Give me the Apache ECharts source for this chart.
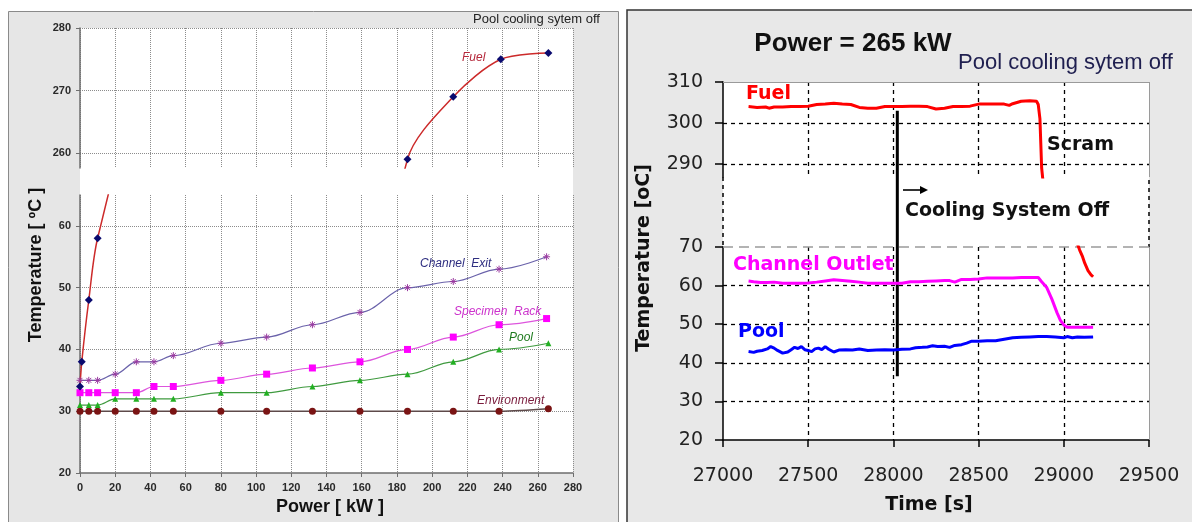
<!DOCTYPE html>
<html><head><meta charset="utf-8">
<script src="https://cdn.jsdelivr.net/npm/echarts@6/dist/echarts.min.js"></script>
<style>html,body{margin:0;padding:0;background:#fff}#c{width:1192px;height:522px}</style>
</head><body><div id="c"></div>
<script>
// ---------- LEFT PANEL DATA : Power [kW] vs Temperature [°C] ----------
const leftFuel          = [[0,34],[1,38],[5,48],[10,58],[186,259],[212,269],[239,275],[266,276]];
const leftChannelExit   = [[0,35],[5,35],[10,35],[20,36],[32,38],[42,38],[53,39],[80,41],[106,42],[132,44],[159,46],[186,50],[212,51],[238,53],[265,55]];
const leftSpecimenRack  = [[0,33],[5,33],[10,33],[20,33],[32,33],[42,34],[53,34],[80,35],[106,36],[132,37],[159,38],[186,40],[212,42],[238,44],[265,45]];
const leftPool          = [[0,31],[5,31],[10,31],[20,32],[32,32],[42,32],[53,32],[80,33],[106,33],[132,34],[159,35],[186,36],[212,38],[238,40],[266,41]];
const leftEnvironment   = [[0,30],[5,30],[10,30],[20,30],[32,30],[42,30],[53,30],[80,30],[106,30],[132,30],[159,30],[186,30],[212,30],[238,30],[266,30.4]];
const leftTopTicks      = [260,270,280];
const leftBottomTicks   = [20,30,40,50,60];

// ---------- RIGHT PANEL DATA : Time [s] vs Temperature [°C] ----------
const rightFuelTop = [[27150,304.0],[27200,303.8],[27250,303.9],[27270,303.6],[27300,303.9],[27350,303.9],[27400,304.0],[27450,304.0],[27500,304.1],[27550,304.5],[27600,304.6],[27650,304.8],[27700,304.6],[27750,304.5],[27800,303.8],[27850,303.6],[27900,303.6],[27950,304.0],[28000,304.0],[28050,304.0],[28100,304.1],[28150,304.1],[28200,304.0],[28250,303.4],[28300,303.6],[28350,304.0],[28400,304.0],[28450,304.1],[28500,304.6],[28550,304.6],[28600,304.6],[28650,304.6],[28680,304.3],[28700,304.7],[28750,305.3],[28800,305.4],[28840,305.3],[28850,304.5],[28860,301],[28865,295],[28870,289],[28880,285]];
const rightFuelBottom = [[29070,72],[29093,69.2],[29110,67.5],[29123,65.8],[29142,63.9],[29160,62.8],[29172,62.3]];
const rightChannelOutlet = [[27150,61.2],[27180,61.0],[27220,60.8],[27260,60.8],[27300,60.9],[27350,60.6],[27400,60.6],[27450,60.6],[27500,60.7],[27550,60.9],[27600,61.2],[27650,61.5],[27700,61.3],[27750,61.1],[27800,60.9],[27850,60.6],[27900,60.6],[27950,60.6],[28000,60.6],[28050,60.6],[28100,61.0],[28150,61.0],[28200,61.1],[28250,61.2],[28300,61.3],[28330,61.3],[28360,60.9],[28400,61.6],[28450,61.6],[28500,61.7],[28550,62.0],[28600,62.0],[28650,62.0],[28700,62.0],[28750,62.1],[28800,62.1],[28850,62.1],[28870,61.0],[28900,59.5],[28930,56.5],[28960,53],[28980,51],[29000,49.8],[29020,49.2],[29100,49.2],[29172,49.2]];
const rightPool = [[27150,42.9],[27180,42.7],[27200,43.0],[27230,43.2],[27260,43.6],[27280,44.2],[27300,43.8],[27320,43.2],[27350,42.5],[27380,42.8],[27400,43.4],[27420,44.0],[27440,43.7],[27460,44.2],[27480,43.4],[27500,43.2],[27520,42.9],[27540,43.6],[27560,43.8],[27580,43.4],[27600,44.2],[27620,43.5],[27650,42.8],[27680,43.3],[27720,43.4],[27760,43.3],[27800,43.6],[27850,43.2],[27900,43.3],[27950,43.4],[28000,43.3],[28050,43.5],[28100,43.6],[28130,43.9],[28170,44.0],[28200,44.1],[28230,44.4],[28260,44.2],[28300,44.3],[28330,44.0],[28360,44.5],[28400,44.7],[28430,45.1],[28460,45.6],[28500,45.6],[28550,45.7],[28600,45.7],[28650,46.1],[28700,46.5],[28750,46.6],[28800,46.7],[28850,46.8],[28900,46.8],[28950,46.7],[29000,46.5],[29020,46.8],[29050,46.5],[29080,46.7],[29120,46.6],[29172,46.7]];
const rightTopTicks = [290,300,310];
const rightBottomTicks = [20,30,40,50,60,70];
const coolingOffTime = 28023;
const coolingOffSpan = [303, 36.5];

// ---------- LAYOUT ----------
const L = {x:80, w:493, topY:28, topH:140, botY:195, botH:278};
const R = {x:723, w:426, topY:82, topH:95, botY:247, botH:193};
const fL = 'Arial, "Liberation Sans", sans-serif';
const fR = '"DejaVu Sans", sans-serif';

const chart = echarts.init(document.getElementById('c'), null, {renderer:'canvas'});

const leftGridLine = {show:true, lineStyle:{color:'#8c8c8c', type:'dotted', width:1}};
const rightDash = {color:'#000', type:[4,4], width:1.3};
const rightXGridLine = {show:true, showMinLine:false, showMaxLine:false, lineStyle:rightDash};

const leftLabel = {color:'#2a2a2a', fontFamily:fL, fontWeight:'bold', fontSize:11, margin:9};
const rightLabel = {color:'#222', fontFamily:fR, fontSize:19, formatter:(v)=>String(v)};

const asterisk = 'path://M0,5L10,5M5,0L5,10M1.5,1.5L8.5,8.5M8.5,1.5L1.5,8.5';

function leftLine(name, data, xi, color, lineColor, symbol, size, extra) {
  return Object.assign({
    type:'line', name, data, xAxisIndex:xi, yAxisIndex:xi,
    smooth:0.35, smoothMonotone:'x', symbol, symbolSize:size, showSymbol:true,
    lineStyle:{color:lineColor, width:1.2},
    itemStyle:{color:color},
    clip:true, silent:true, animation:false
  }, extra||{});
}
function rightLine(name, data, idx, color) {
  return {type:'line', name, data, xAxisIndex:idx, yAxisIndex:idx, symbol:'none',
    lineStyle:{color, width:3}, itemStyle:{color}, clip:true, silent:true, animation:false};
}

const option = {
  animation:false,
  backgroundColor:'transparent',
  grid:[
    {left:L.x, top:L.topY, width:L.w, height:L.topH, outerBoundsMode:'none'},
    {left:L.x, top:L.botY, width:L.w, height:L.botH, outerBoundsMode:'none'},
    {left:R.x, top:R.topY, width:R.w, height:R.topH, outerBoundsMode:'none'},
    {left:R.x, top:R.botY, width:R.w, height:R.botH, outerBoundsMode:'none'}
  ],
  xAxis:[
    {gridIndex:0, type:'value', min:0, max:280, interval:20, axisLine:{show:false}, axisTick:{show:false}, axisLabel:{show:false}, splitLine:leftGridLine},
    {gridIndex:1, type:'value', min:0, max:280, interval:20, axisLine:{show:true, onZero:false, lineStyle:{color:'#6e6e6e', width:1.5}}, axisTick:{show:true, length:4, lineStyle:{color:'#6e6e6e'}}, axisLabel:leftLabel, splitLine:leftGridLine},
    {gridIndex:2, type:'value', min:27000, max:29500, interval:500, axisLine:{show:false}, axisTick:{show:false}, axisLabel:{show:false}, splitLine:rightXGridLine},
    {gridIndex:3, type:'value', min:27000, max:29500, interval:500, axisLine:{show:true, onZero:false, lineStyle:{color:'#000', width:1.5}}, axisTick:{show:true, length:7, lineStyle:{color:'#000', width:1.5}}, axisLabel:Object.assign({margin:27}, rightLabel), splitLine:rightXGridLine}
  ],
  yAxis:[
    {gridIndex:0, type:'value', min:257.6, max:280, splitNumber:2,
      axisLine:{show:true, onZero:false, lineStyle:{color:'#6e6e6e', width:1.5}},
      axisTick:{show:true, length:4, customValues:leftTopTicks, lineStyle:{color:'#6e6e6e'}},
      axisLabel:Object.assign({customValues:leftTopTicks}, leftLabel),
      splitLine:leftGridLine},
    {gridIndex:1, type:'value', min:20, max:65, interval:10,
      axisLine:{show:true, onZero:false, lineStyle:{color:'#6e6e6e', width:1.5}},
      axisTick:{show:true, length:4, customValues:leftBottomTicks, lineStyle:{color:'#6e6e6e'}},
      axisLabel:Object.assign({customValues:leftBottomTicks}, leftLabel),
      splitLine:Object.assign({showMinLine:false}, leftGridLine)},
    {gridIndex:2, type:'value', min:286.8, max:310, splitNumber:2,
      axisLine:{show:true, onZero:false, lineStyle:{color:'#000', width:1.5}},
      axisTick:{show:true, length:8, customValues:rightTopTicks, lineStyle:{color:'#000', width:1.5}},
      axisLabel:Object.assign({customValues:rightTopTicks, margin:20}, rightLabel),
      splitLine:{show:true, showMinLine:true, showMaxLine:false, lineStyle:rightDash}},
    {gridIndex:3, type:'value', min:20, max:70, interval:10,
      axisLine:{show:true, onZero:false, lineStyle:{color:'#000', width:1.5}},
      axisTick:{show:true, length:8, customValues:rightBottomTicks, lineStyle:{color:'#000', width:1.5}},
      axisLabel:Object.assign({customValues:rightBottomTicks, margin:20}, rightLabel),
      splitLine:{show:true, showMinLine:false, showMaxLine:false, lineStyle:rightDash}}
  ],
  series:[
    leftLine('Environment', leftEnvironment, 1, '#7a1414', '#5e4a4a', 'circle', 7, {lineStyle:{color:'#5e4a4a', width:1.6}}),
    leftLine('Pool', leftPool, 1, '#22b022', '#3f9a3f', 'triangle', 6),
    leftLine('Specimen Rack', leftSpecimenRack, 1, '#ff00ff', '#dd55dd', 'rect', 7),
    leftLine('Channel Exit', leftChannelExit, 1, '#9a3aa0', '#6a62aa', asterisk, 7, {itemStyle:{color:'#9a3aa0', borderColor:'#9a3aa0', borderWidth:1}}),
    leftLine('Fuel', leftFuel, 1, '#0a0a6e', '#cc2a2a', 'diamond', 8, {smooth:0.3, smoothMonotone:null, lineStyle:{color:'#cc2a2a', width:1.5}}),
    leftLine('Fuel', leftFuel, 0, '#0a0a6e', '#cc2a2a', 'diamond', 8, {smooth:0.3, smoothMonotone:null, lineStyle:{color:'#cc2a2a', width:1.5}}),
    rightLine('Fuel', rightFuelTop, 2, '#ff0000'),
    rightLine('Fuel', rightFuelBottom, 3, '#ff0000'),
    rightLine('Channel Outlet', rightChannelOutlet, 3, '#ff00ff'),
    rightLine('Pool', rightPool, 3, '#0000ff')
  ]
};
chart.setOption(option);

const pTop = chart.convertToPixel({gridIndex:2}, [coolingOffTime, coolingOffSpan[0]]);
const pBot = chart.convertToPixel({gridIndex:3}, [coolingOffTime, coolingOffSpan[1]]);

function txt(text, x, y, font, fill, align, extra) {
  return Object.assign({type:'text', x, y, z:50, silent:true,
    style:{text, font, fill, align:align||'left', verticalAlign:'middle'}}, extra||{});
}
function ln(x1,y1,x2,y2,stroke,w,dash,z) {
  return {type:'line', z:z==null?5:z, silent:true, shape:{x1,y1,x2,y2}, style:{stroke, lineWidth:w, lineDash:dash||null}};
}

const Rr = R.x + R.w, Rtb = R.topY + R.topH;
chart.setOption({graphic:{elements:[
  // panels
  {type:'rect', z:-100, silent:true, shape:{x:8.5, y:11.5, width:610, height:520}, style:{fill:'#e6e6e6', stroke:'#8a8a8a', lineWidth:1}},
  {type:'rect', z:-90, silent:true, shape:{x:L.x, y:L.topY, width:L.w, height:L.botY+L.botH-L.topY}, style:{fill:'#ffffff'}},
  {type:'rect', z:-100, silent:true, shape:{x:627, y:10, width:570, height:520}, style:{fill:'#e8e8e8', stroke:'#333', lineWidth:1.5}},
  {type:'rect', z:-90, silent:true, shape:{x:R.x, y:R.topY, width:R.w, height:R.botY+R.botH-R.topY}, style:{fill:'#ffffff'}},
  // right plot frames
  ln(R.x, R.topY+0.5, Rr, R.topY+0.5, '#9a9a9a', 1, null, 1),
  ln(Rr+0.5, R.topY, Rr+0.5, Rtb, '#9a9a9a', 1, null, 1),
  ln(R.x, Rtb, R.x, R.botY, '#000', 1.5, [4,4], 1),
  ln(Rr, Rtb+3, Rr, R.botY, '#000', 1.5, [4,4], 1),
  ln(R.x, R.botY, Rr, R.botY, '#9a9a9a', 1.3, [10,6], 1),
  ln(Rr+0.5, R.botY, Rr+0.5, R.botY+R.botH, '#9a9a9a', 1, null, 1),
  // cooling-off marker line
  ln(pTop[0], pTop[1], pBot[0], pBot[1], '#000', 3, null, 1),
  // arrow
  ln(903, 190, 921, 190, '#000', 1.6, null, 6),
  {type:'polygon', z:6, silent:true, shape:{points:[[920,186],[928,190],[920,194]]}, style:{fill:'#000'}},
  // left panel texts
  txt('Pool cooling sytem off', 473, 19, '13px '+fL, '#222'),
  txt('Fuel', 462, 58, 'italic 12px '+fL, '#b5273a'),
  txt('Channel  Exit', 420, 264, 'italic 12px '+fL, '#2e2e80'),
  txt('Specimen  Rack', 454, 312, 'italic 12px '+fL, '#cc33cc'),
  txt('Pool', 509, 338, 'italic 12px '+fL, '#1e7a1e'),
  txt('Environment', 477, 401, 'italic 12px '+fL, '#7a1c3c'),
  txt('Power [ kW ]', 330, 507, 'bold 18px '+fL, '#111', 'center'),
  txt('Temperature [ ºC ]', 36, 265, 'bold 18px '+fL, '#111', 'center', {rotation:Math.PI/2}),
  // right panel texts
  txt('Power = 265 kW', 853, 44, 'bold 26px '+fL, '#111', 'center'),
  txt('Pool cooling sytem off', 958, 63, '22px '+fL, '#1f1f4f'),
  txt('Fuel', 746, 94, 'bold 19px '+fR, '#ff0000'),
  txt('Scram', 1047, 145, 'bold 19px '+fR, '#111'),
  txt('Cooling System Off', 905, 211, 'bold 19px '+fR, '#111'),
  txt('Channel Outlet', 733, 265, 'bold 19px '+fR, '#ff00ff'),
  txt('Pool', 738, 332, 'bold 19px '+fR, '#0000ff'),
  txt('Time [s]', 929, 505, 'bold 19px '+fR, '#111', 'center'),
  txt('Temperature [oC]', 644, 258, 'bold 19px '+fR, '#111', 'center', {rotation:Math.PI/2})
]}});
</script></body></html>
